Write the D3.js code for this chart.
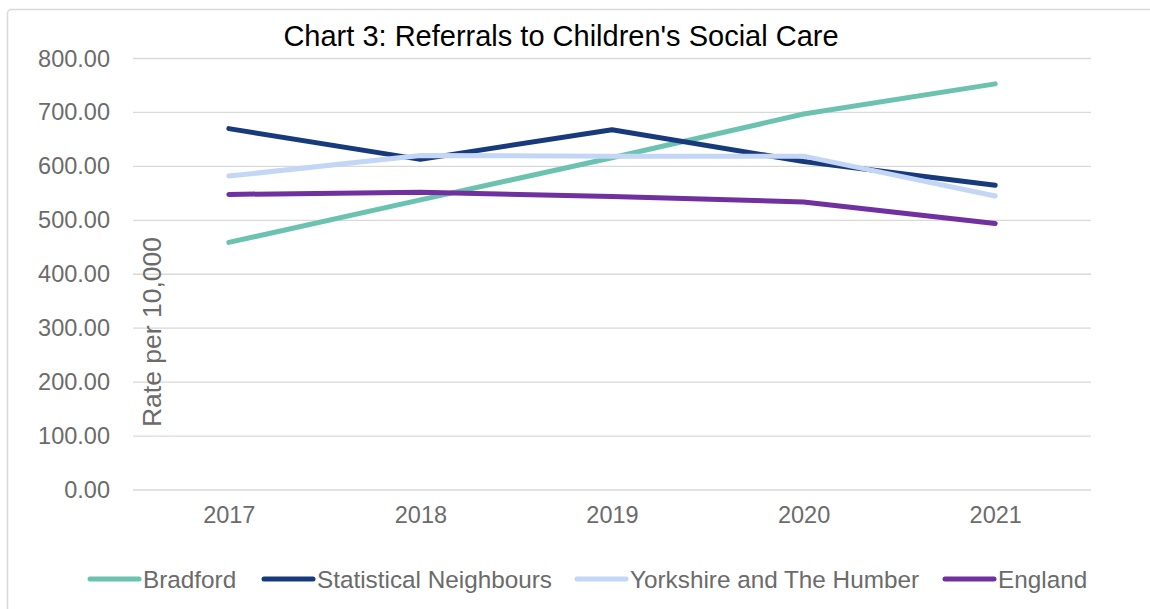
<!DOCTYPE html>
<html>
<head>
<meta charset="utf-8">
<script src="https://cdn.jsdelivr.net/npm/d3@7"></script>
<style>
  body { margin: 0; background: #fff; }
  text { font-family: "Liberation Sans", Arial, sans-serif; }
</style>
</head>
<body>
<div id="chart"></div>
<script>
const years = ["2017", "2018", "2019", "2020", "2021"];
const bradford = [459, 538, 616, 697, 753];
const statNeighbours = [670, 613, 668, 609, 565];
const yorkshire = [582, 620, 619, 619, 545];
const england = [548, 552, 544, 534, 494];
const yTicks = [0, 100, 200, 300, 400, 500, 600, 700, 800];

const series = [
    {name: "Bradford", values: bradford, color: "#6cc2b1"},
    {name: "Statistical Neighbours", values: statNeighbours, color: "#173a7c"},
    {name: "Yorkshire and The Humber", values: yorkshire, color: "#c4d6f5"},
    {name: "England", values: england, color: "#7030a0"}
];

const width = 1150, height = 609;
const plot = {left: 133, right: 1091, top: 58.5, bottom: 490};

const svg = d3.select("#chart")
    .append("svg")
    .attr("width", width)
    .attr("height", height);

// chart frame
svg.append("rect")
    .attr("x", 7.5).attr("y", 9.5)
    .attr("width", 1300).attr("height", 800)
    .attr("rx", 4)
    .attr("fill", "white")
    .attr("stroke", "#d9d9d9")
    .attr("stroke-width", 1.5);

const x = d3.scalePoint()
    .domain(years)
    .range([plot.left, plot.right])
    .padding(0.5);

const y = d3.scaleLinear()
    .domain([0, 800])
    .range([plot.bottom, plot.top]);

// gridlines
svg.append("g")
    .selectAll("line")
    .data(yTicks)
    .enter()
    .append("line")
    .attr("x1", plot.left).attr("x2", plot.right)
    .attr("y1", d => y(d)).attr("y2", d => y(d))
    .attr("stroke", "#d9d9d9")
    .attr("stroke-width", 1.3);

// y axis labels
const yAxis = svg.append("g")
    .attr("transform", "translate(110,0)")
    .call(d3.axisLeft(y).tickValues(yTicks).tickSize(0).tickPadding(0).tickFormat(d3.format(".2f")));
yAxis.select(".domain").remove();
yAxis.selectAll("text")
    .style("font-size", "23.5px")
    .style("font-family", "'Liberation Sans', Arial, sans-serif")
    .attr("fill", "#6b6b6b");

// x axis labels
const xAxis = svg.append("g")
    .attr("transform", `translate(0, ${plot.bottom + 16})`)
    .call(d3.axisBottom(x).tickSize(0).tickPadding(0));
xAxis.select(".domain").remove();
xAxis.selectAll("text")
    .style("font-size", "23.5px")
    .style("font-family", "'Liberation Sans', Arial, sans-serif")
    .attr("fill", "#6b6b6b");

// lines
const line = d3.line()
    .x((d, i) => x(years[i]))
    .y(d => y(d));

svg.append("g")
    .selectAll("path")
    .data(series)
    .enter()
    .append("path")
    .attr("d", d => line(d.values))
    .attr("fill", "none")
    .attr("stroke", d => d.color)
    .attr("stroke-width", 5)
    .attr("stroke-linecap", "round")
    .attr("stroke-linejoin", "round");

// axis title
svg.append("text")
    .attr("transform", "translate(161,332) rotate(-90)")
    .attr("text-anchor", "middle")
    .style("font-size", "26.5px")
    .attr("fill", "#6b6b6b")
    .text("Rate per 10,000");

// title
svg.append("text")
    .attr("x", 561).attr("y", 46)
    .attr("text-anchor", "middle")
    .style("font-size", "29px")
    .attr("fill", "#000")
    .text("Chart 3: Referrals to Children's Social Care");

// legend
const legendX = [88, 262, 575, 943];
const legend = svg.append("g")
    .selectAll("g")
    .data(series)
    .enter()
    .append("g")
    .attr("transform", (d, i) => `translate(${legendX[i]}, 579)`);
legend.append("line")
    .attr("x1", 2).attr("x2", 51)
    .attr("stroke", d => d.color)
    .attr("stroke-width", 5)
    .attr("stroke-linecap", "round");
legend.append("text")
    .attr("x", 55).attr("y", 8.5)
    .style("font-size", "24.3px")
    .attr("fill", "#6b6b6b")
    .text(d => d.name);
</script>
</body>
</html>
